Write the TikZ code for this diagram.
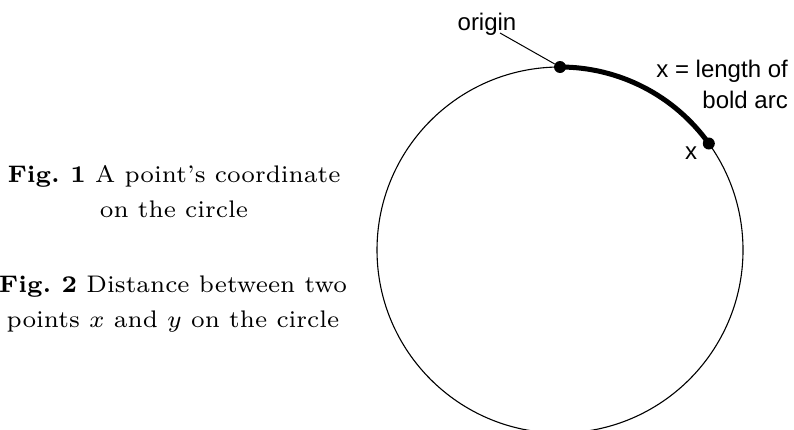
\documentclass[tikz,border=0pt]{standalone}
\usepackage{fontspec}
\newfontfamily\arialf{Liberation Sans}
\tikzset{
  caption/.style={align=center, font=\fontsize{7}{10.2}\selectfont, inner sep=0pt, scale=3.43, transform shape},
  sanslabel/.style={font=\arialf\fontsize{24}{31}\selectfont, inner sep=0pt},
  pointdot/.style={circle, fill=black, inner sep=0pt, minimum size=12pt},
}
\begin{document}
\begin{tikzpicture}[x=1pt,y=-1pt]
\useasboundingbox (0,0) rectangle (794,429);
\begin{scope}
\clip (0,0) rectangle (794,429);
\draw[line width=1.1pt] (560,250) circle (183);
\end{scope}
\draw[line width=5pt] (560,67) arc (-90:-35.6:183);
\node[pointdot] (o) at (560,67) {};
\node[pointdot] (xp) at (708.8,143.5) {};
\node[sanslabel, anchor=base] (lorig) at (487,30) {origin};
\coordinate (lead) at (500,33);
\draw[line width=1pt] (lead) -- (o);
\node[sanslabel, anchor=base east, align=right] (lx) at (788,108) {x = length of\\bold arc};
\node[sanslabel, anchor=base] (lxx) at (691,159) {x};
\node[caption, anchor=base] (c1) at (174,217) {\textbf{Fig.\ 1} A point's coordinate\\on the circle};
\node[caption, anchor=base] (c2) at (173,327) {\textbf{Fig.\ 2} Distance between two\\points $x$ and $y$ on the circle};
\end{tikzpicture}
\end{document}
